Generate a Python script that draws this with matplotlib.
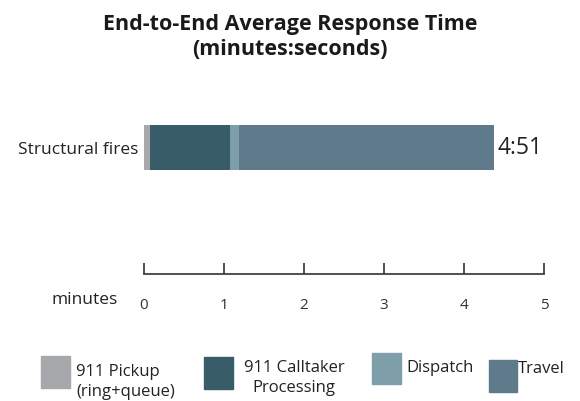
import matplotlib.pyplot as plt
import matplotlib.patches as mpatches

plt.rcParams['font.family'] = ['Open Sans', 'DejaVu Sans']

category = 'Structural fires'
stages = ['911 Pickup\n(ring+queue)', '911 Calltaker\nProcessing', 'Dispatch', 'Travel']
seconds = [5, 67, 7, 212]  # per stage, sums to 4:51
colors = ['#a7a8ac', '#385d68', '#7e9ea9', '#5f7a8b']
minute_ticks = [0, 1, 2, 3, 4, 5]

W, H = 580, 401
fig = plt.figure(figsize=(W / 100, H / 100), dpi=100)


def fx(px):
    return px / W


def fy(py):
    return 1 - py / H


fig.text(0.5, fy(37), 'End-to-End Average Response Time\n(minutes:seconds)',
         ha='center', va='center', fontsize=15.5, fontweight='bold',
         linespacing=1.3, color='#1a1a1a')

# stacked bar
ax = fig.add_axes([fx(144), fy(170), fx(400), 45 / H])
left = 0
for s, c in zip(seconds, colors):
    ax.barh(0, s, left=left, height=1, color=c, edgecolor='none')
    left += s
ax.set_xlim(0, 333)
ax.set_ylim(-0.5, 0.5)
ax.set_yticks([0], [category], fontsize=12.5, color='#222222')
ax.tick_params(axis='y', length=0, pad=4)
ax.set_xticks([])
for sp in ax.spines.values():
    sp.set_visible(False)
total = sum(seconds)
ax.text(total + 3, 0, f'{total // 60}:{total % 60:02d}', va='center', ha='left',
        fontsize=16.5, color='#222222')

# minutes scale
ax2 = fig.add_axes([fx(144), fy(274), fx(400), 0.01])
ax2.set_xlim(0, 5)
ax2.set_xticks(minute_ticks)
ax2.set_yticks([])
for name, sp in ax2.spines.items():
    sp.set_visible(name == 'bottom')
ax2.spines['bottom'].set_color('#333333')
ax2.spines['bottom'].set_linewidth(1.2)
ax2.tick_params(axis='x', direction='in', length=8, width=1.2, color='#333333',
                pad=17, labelsize=11, labelcolor='#333333')
ax2.patch.set_visible(False)
fig.text(fx(118), fy(300), 'minutes', ha='right', va='center', fontsize=12.5,
         color='#222222')

# legend
boxes = [(41, 356, 29, 32), (204, 357, 29, 32), (372, 353, 29, 31), (489, 360, 28, 32)]
label_pos = [(76, 382, 'left'), (294, 378, 'center'), (406, 368, 'left'), (518, 369, 'left')]
for (bx, by, bw, bh), (tx, ty, ha), lab, c in zip(boxes, label_pos, stages, colors):
    fig.patches.append(mpatches.Rectangle((fx(bx), fy(by + bh)), fx(bw), bh / H,
                                          transform=fig.transFigure, color=c))
    fig.text(fx(tx), fy(ty), lab, ha=ha, va='center', fontsize=12,
             color='#222222', linespacing=1.25)

fig.savefig('out.png', dpi=100)
